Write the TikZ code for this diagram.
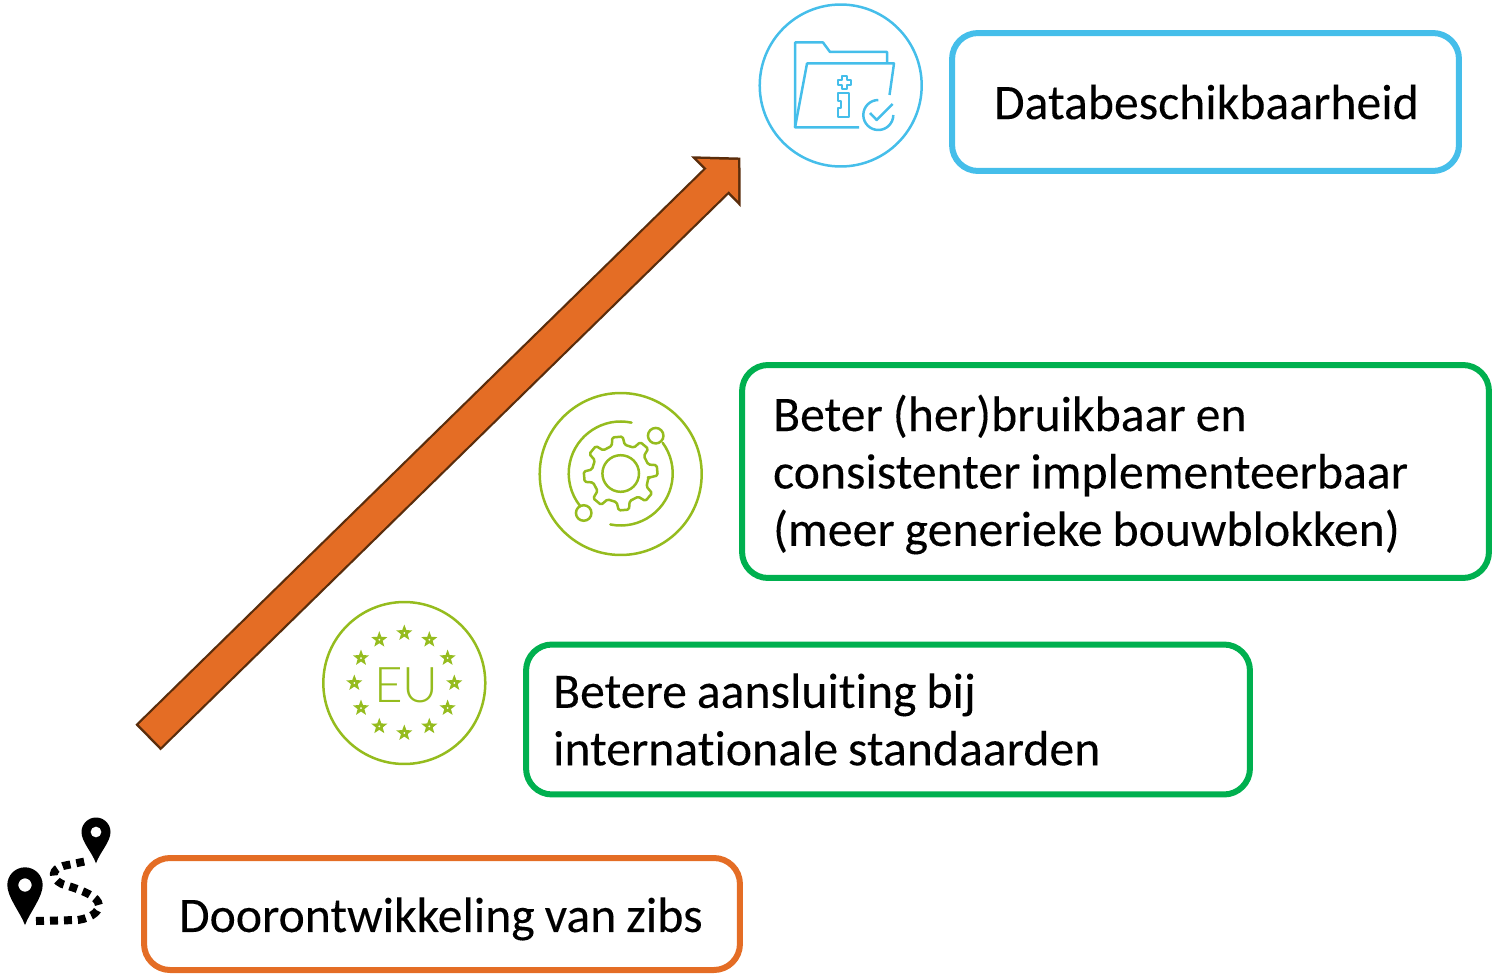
\documentclass[tikz,border=0pt]{standalone}
\usepackage{fontspec}
\usepackage{tikz}
\usetikzlibrary{arrows.meta,shapes.geometric}
\setmainfont[Ligatures=NoCommon,FakeBold=0.15]{Carlito}
\newfontfamily\eufont{Lato Light}
\newcommand{\zibspace}{\setlength{\spaceskip}{.2em}}
\definecolor{zibblue}{HTML}{45BEEA}
\definecolor{zibgreen}{HTML}{00B04F}
\definecolor{ziborange}{HTML}{E46D25}
\definecolor{iconblue}{HTML}{45BEEA}
\definecolor{icongreen}{HTML}{95BC1E}
\definecolor{arrowbrown}{HTML}{5A2D0C}
\tikzset{
  zibbox/.style={draw=#1,line width=.12cm,rounded corners=.52cm,align=left,inner ysep=0pt,font=\fontsize{28.3}{32.7}\selectfont},
  ring/.style={draw=#1,line width=.05cm,circle,minimum size=3.24cm,inner sep=0pt},
  iconline/.style={draw=#1,line width=.05cm,line join=round},
  eustar/.style={star,star points=5,star point ratio=2.4,fill=icongreen,minimum size=.34cm,inner sep=0pt},
  arrowouter/.style={draw=arrowbrown,line width=.72cm,-{Triangle[length=.69cm,width=1.38cm,fill=arrowbrown]}},
  arrowinner/.style={draw=ziborange,line width=.63cm,shorten <=.05cm,shorten >=.07cm,
    -{Triangle[length=.57cm,width=1.14cm,fill=ziborange]}},
  routedash/.style={draw=black,line width=.16cm,dash pattern=on .16cm off .12cm}
}
\begin{document}
\begin{tikzpicture}[x=.02cm,y=.02cm]
  \useasboundingbox (0,0) rectangle (1493,-973);

  % tekstblokken
  \node (databox) at (1205.5,-102) [zibbox=zibblue,minimum width=10.14cm,minimum height=2.76cm,text width=8.46cm,inner xsep=.84cm] {Databeschikbaarheid};
  \node (bouwbox) at (1115.5,-471.5) [zibbox=zibgreen,minimum width=14.94cm,minimum height=4.26cm,text width=13.7cm,inner xsep=.62cm] {\zibspace\rule{0pt}{.85cm}Beter (her)bruikbaar en\\consistenter implementeerbaar\\(meer generieke bouwblokken)};
  \node (eubox) at (888,-719.5) [zibbox=zibgreen,minimum width=14.48cm,minimum height=3cm,text width=13.4cm,inner xsep=.54cm] {\zibspace Betere aansluiting bij\\internationale standaarden};
  \node (zibbox) at (442,-914) [zibbox=ziborange,minimum width=11.92cm,minimum height=2.24cm,text width=10.52cm,inner xsep=.7cm] {\zibspace\rule{0pt}{.89cm}Doorontwikkeling van zibs};

  % pijl
  \coordinate (arrowtail) at (148,-737.5);
  \coordinate (arrowtip) at (740.5,-157.5);
  \draw[arrowouter] (arrowtail) -- (arrowtip);
  \draw[arrowinner] (arrowtail) -- (arrowtip);

  % map
  \node (dataring) at (840.7,-85.5) [ring=iconblue] {};
  \draw[iconline=iconblue] (859,-127.5) -- (795,-127.5) -- (795,-42.5) -- (823,-42.5) -- (830,-52) -- (887,-52) -- (887,-63);
  \draw[iconline=iconblue] (795,-127.5) -- (807,-63.5) -- (894,-63.5) -- (889.5,-95);
  \draw[iconline=iconblue,line width=.035cm] (842,-76) -- (847,-76) -- (847,-80) -- (851,-80) -- (851,-85) -- (847,-85) -- (847,-89) -- (842,-89) -- (842,-85) -- (838,-85) -- (838,-80) -- (842,-80) -- cycle;
  \draw[iconline=iconblue,line width=.035cm] (838.3,-92.7) -- (849.3,-92.7) -- (849.3,-117.3) -- (838.3,-117.3) -- (838.3,-108.3) -- (840.7,-108.3) -- (840.7,-101) -- (838.3,-101) -- cycle;
  \draw[iconline=iconblue] (878.3,-100) arc[start angle=90,end angle=360,radius=15];
  \draw[iconline=iconblue] (870,-113) -- (876.7,-120) -- (892.7,-104);

  % tandwiel
  \node (bouwring) at (620.7,-474) [ring=icongreen] {};
  \node (bouwdota) at (583.7,-513) [circle,draw=icongreen,line width=.05cm,minimum size=.31cm,inner sep=0pt] {};
  \node (bouwdotb) at (655.7,-435.7) [circle,draw=icongreen,line width=.05cm,minimum size=.31cm,inner sep=0pt] {};
  \begin{scope}[shift={(620.7,-473.5)}]
    \draw[iconline=icongreen,line cap=round] (78:52) arc[start angle=78,end angle=219,radius=52];
    \draw[iconline=icongreen,line cap=round] (36:52) arc[start angle=36,end angle=-101.5,radius=52];
    \draw[iconline=icongreen] (0,0) circle (18.3);
    \draw[iconline=icongreen,rounded corners=.03cm] (-8:28)
      \foreach \a in {5,50,...,320} { -- (\a-13:29) -- (\a-8:37) -- (\a+8:37) -- (\a+13:29) } -- cycle;
  \end{scope}

  % sterren
  \node (euring) at (404.3,-683) [ring=icongreen] {};
  \node (eulabel) at (406.5,-685) [text=icongreen,font=\eufont\fontsize{28}{28}\selectfont,inner sep=0pt] {EU};
  \foreach \i in {0,...,11} {
    \node (star\i) at ([shift={(404.3,-683)}]\i*30:50) [eustar] {};
    \fill[white] (star\i) circle (1);
  }

  % route
  \node (startpin) at (25,-885) [inner sep=0pt,minimum size=0pt] {};
  \node (endpin) at (96,-832) [inner sep=0pt,minimum size=0pt] {};
  \fill[even odd rule] (25,-925) .. controls (20,-912) and (7.3,-897) .. (7.3,-885) arc[start angle=180,end angle=0,radius=17.7] .. controls (42.7,-897) and (30,-912) .. (25,-925) -- cycle (25,-885) circle (6.7);
  \fill[even odd rule] (96,-863.3) .. controls (92,-852) and (81.5,-842) .. (81.5,-832) arc[start angle=180,end angle=0,radius=14.5] .. controls (110.5,-842) and (100,-852) .. (96,-863.3) -- cycle (96,-832) circle (5.5);
  \draw[routedash] (36,-921) -- (78,-920) .. controls (92,-918) and (102,-910) .. (98,-902) .. controls (94,-894) and (75,-888) .. (62,-884) .. controls (50,-878) and (52,-869) .. (63,-866) -- (87,-861);
\end{tikzpicture}
\end{document}
